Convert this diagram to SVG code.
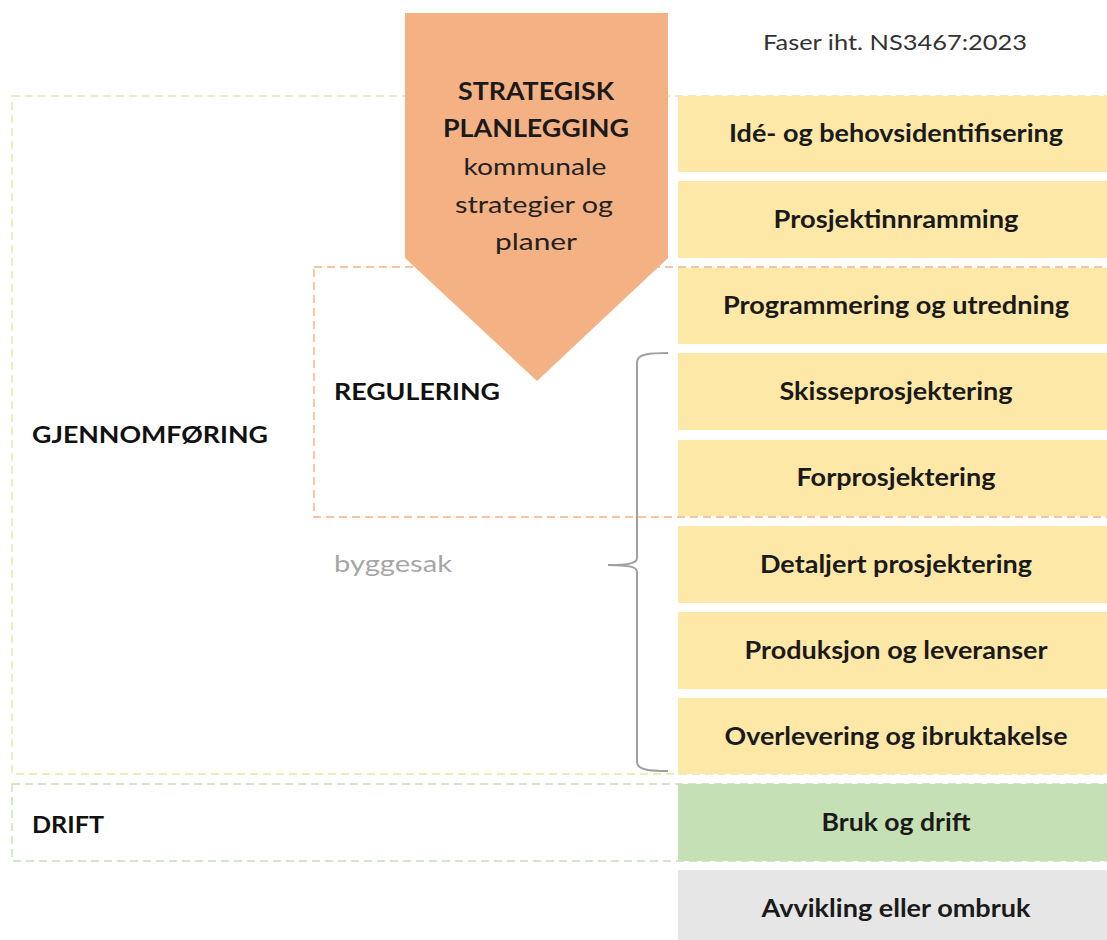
<svg xmlns="http://www.w3.org/2000/svg" width="1107" height="940" viewBox="0 0 1107 940">
  <style>
    .phase { font-family: Lato, "Open Sans", sans-serif; font-weight: bold; font-size: 24px; fill: #1a1a1a; text-anchor: middle; }
    .label { font-family: Lato, "Open Sans", sans-serif; font-weight: bold; font-size: 23px; fill: #111; }
    .yellow { fill: #FEE8A8; }
    .green { fill: #C5E0B4; }
    .grey { fill: #E7E6E6; }
    .dash { fill: none; stroke-width: 1.4; stroke-dasharray: 8 5; }
  </style>

  <rect width="1107" height="940" fill="#ffffff"/>

  <!-- dashed grouping frames -->
  <g id="frames">
    <rect id="gjennomforing-frame" class="dash" x="12" y="96" width="1110" height="678" stroke="#DDEBA4"/>
    <rect id="regulering-frame" class="dash" x="314" y="267" width="808" height="250" stroke="#F4B183"/>
    <rect id="drift-frame" class="dash" x="12" y="784" width="1110" height="77" stroke="#C5E0B4"/>
  </g>

  <text x="763" y="50" font-family="Lato, 'Open Sans', sans-serif" font-size="21" fill="#333" textLength="264" lengthAdjust="spacingAndGlyphs">Faser iht. NS3467:2023</text>

  <!-- phase column -->
  <g id="phase-1"><rect class="yellow" x="678" y="96" width="436" height="76"/><text class="phase" x="896" y="142" textLength="334" lengthAdjust="spacingAndGlyphs">Idé- og behovsidentifisering</text></g>
  <g id="phase-2"><rect class="yellow" x="678" y="181" width="436" height="77"/><text class="phase" x="896" y="228" textLength="245" lengthAdjust="spacingAndGlyphs">Prosjektinnramming</text></g>
  <g id="phase-3"><rect class="yellow" x="678" y="268" width="436" height="76"/><text class="phase" x="896" y="314" textLength="346" lengthAdjust="spacingAndGlyphs">Programmering og utredning</text></g>
  <g id="phase-4"><rect class="yellow" x="678" y="353" width="436" height="77"/><text class="phase" x="896" y="400" textLength="233" lengthAdjust="spacingAndGlyphs">Skisseprosjektering</text></g>
  <g id="phase-5"><rect class="yellow" x="678" y="440" width="436" height="76"/><text class="phase" x="896" y="486" textLength="199" lengthAdjust="spacingAndGlyphs">Forprosjektering</text></g>
  <g id="phase-6"><rect class="yellow" x="678" y="526" width="436" height="77"/><text class="phase" x="896" y="573" textLength="272" lengthAdjust="spacingAndGlyphs">Detaljert prosjektering</text></g>
  <g id="phase-7"><rect class="yellow" x="678" y="612" width="436" height="77"/><text class="phase" x="896" y="659" textLength="303" lengthAdjust="spacingAndGlyphs">Produksjon og leveranser</text></g>
  <g id="phase-8"><rect class="yellow" x="678" y="698" width="436" height="76"/><text class="phase" x="896" y="745" textLength="343" lengthAdjust="spacingAndGlyphs">Overlevering og ibruktakelse</text></g>
  <g id="phase-9"><rect class="green" x="678" y="784" width="436" height="77"/><text class="phase" x="896" y="831" textLength="149" lengthAdjust="spacingAndGlyphs">Bruk og drift</text></g>
  <g id="phase-10"><rect class="grey" x="678" y="870" width="436" height="75"/><text class="phase" x="896" y="917" textLength="269" lengthAdjust="spacingAndGlyphs">Avvikling eller ombruk</text></g>

  <!-- strategic planning arrow -->
  <g id="strategisk-planlegging">
    <polygon points="405,13 668,13 668,258 537,381 405,258" fill="#F4B183"/>
    <text class="phase" x="536" y="100" textLength="156" lengthAdjust="spacingAndGlyphs">STRATEGISK</text>
    <text class="phase" x="536" y="137" textLength="186" lengthAdjust="spacingAndGlyphs">PLANLEGGING</text>
    <text x="535" y="175" font-family="Lato, 'Open Sans', sans-serif" font-size="24" fill="#222" text-anchor="middle" textLength="143" lengthAdjust="spacingAndGlyphs">kommunale</text>
    <text x="534" y="213" font-family="Lato, 'Open Sans', sans-serif" font-size="24" fill="#222" text-anchor="middle" textLength="158" lengthAdjust="spacingAndGlyphs">strategier og</text>
    <text x="536" y="250" font-family="Lato, 'Open Sans', sans-serif" font-size="24" fill="#222" text-anchor="middle" textLength="82" lengthAdjust="spacingAndGlyphs">planer</text>
  </g>

  <!-- side labels -->
  <g id="gjennomforing"><text class="label" x="32" y="443" textLength="236" lengthAdjust="spacingAndGlyphs">GJENNOMFØRING</text></g>
  <g id="regulering"><text class="label" x="334" y="400" textLength="166" lengthAdjust="spacingAndGlyphs">REGULERING</text></g>
  <g id="byggesak"><text x="334" y="572" font-family="Lato, 'Open Sans', sans-serif" font-size="24" fill="#A6A6A6" textLength="118" lengthAdjust="spacingAndGlyphs">byggesak</text></g>
  <g id="drift"><text class="label" x="32" y="833" textLength="72" lengthAdjust="spacingAndGlyphs">DRIFT</text></g>

  <!-- connectors -->
  <g id="connectors">
    <path d="M668,353 C650,353 637,354 637,362 L637,558 C637,563 630,565 608,565 C630,565 637,567 637,572 L637,762 C637,770 650,771 668,771" fill="none" stroke="#A0A0A0" stroke-width="2"/>
  </g>
</svg>
